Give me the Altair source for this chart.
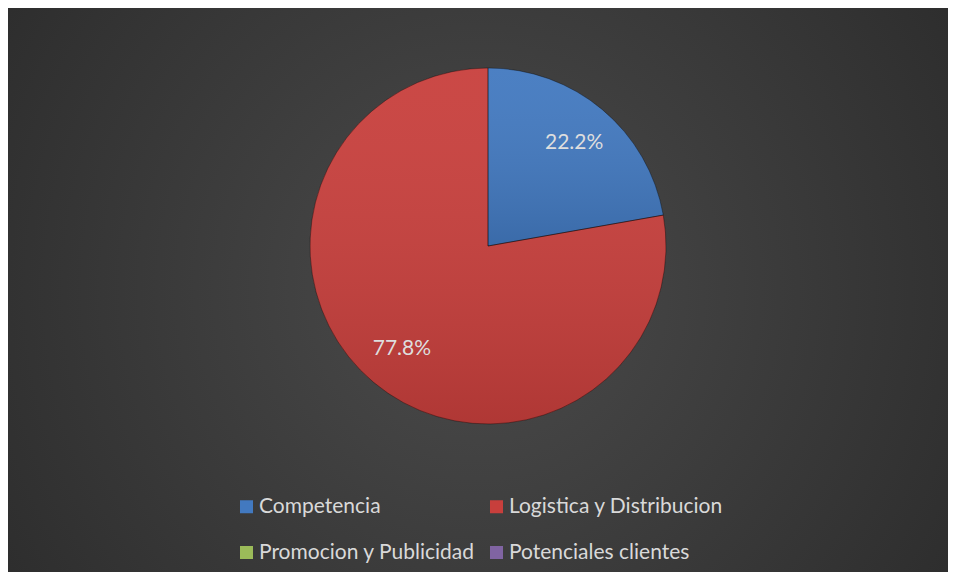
import altair as alt
import pandas as pd

categories = ["Competencia", "Logistica y Distribucion", "Promocion y Publicidad", "Potenciales clientes"]
values = [2, 7, 0, 0]
colors = ["#4279c0", "#c83f3c", "#9bbb59", "#8064a2"]

W, H = 940, 564
CX, CY, R = 480, 238, 178
FONT = "Lato"

df = pd.DataFrame({"categoria": categories, "valor": values, "orden": list(range(len(categories)))})

bg = alt.Chart(pd.DataFrame({"k": [0]})).mark_rect(
    fill=alt.Gradient(
        gradient="radial",
        stops=[alt.GradientStop(color="#4b4b4b", offset=0), alt.GradientStop(color="#272727", offset=1)],
        x1=0.5, y1=0.5, r1=0, x2=0.5, y2=0.5, r2=0.72,
    )
).encode(x=alt.value(0), x2=alt.value(W), y=alt.value(0), y2=alt.value(H))

base = alt.Chart(df).transform_joinaggregate(
    total="sum(valor)"
).transform_calculate(
    pct="datum.valor / datum.total"
).transform_filter("datum.valor > 0").encode(
    theta=alt.Theta("valor:Q", stack=True),
    order=alt.Order("orden:Q"),
    x=alt.value(CX),
    y=alt.value(CY),
)

pie = base.mark_arc(outerRadius=R).encode(
    color=alt.Color(
        "categoria:N",
        scale=alt.Scale(domain=categories, range=colors),
        legend=alt.Legend(
            title=None, orient="none", legendX=228, legendY=488, columns=2,
            direction="horizontal",
            symbolType="square", symbolSize=169, symbolStrokeWidth=0,
            labelFontSize=21, labelFont=FONT, labelColor="#d9d9d9", labelLimit=400,
            rowPadding=24, columnPadding=11, labelOffset=2,
        ),
    )
)

shade = base.mark_arc(
    outerRadius=R,
    fill=alt.Gradient(
        gradient="linear",
        stops=[alt.GradientStop(color="rgba(255,255,255,0.05)", offset=0),
               alt.GradientStop(color="rgba(0,0,0,0.12)", offset=1)],
        x1=0, y1=0, x2=0, y2=1,
    ),
    stroke="rgba(0,0,0,0.35)",
    strokeWidth=1,
)

labels = base.mark_text(radius=134, fontSize=21, font=FONT, color="#dedede").encode(
    text=alt.Text("pct:Q", format=".1%")
)

chart = alt.layer(bg, pie, shade, labels).properties(
    width=W, height=H, padding=0, background="#2b2b2b"
).configure_view(stroke=None)

chart.save("out.html", embed_options={"renderer": "svg", "actions": False})
